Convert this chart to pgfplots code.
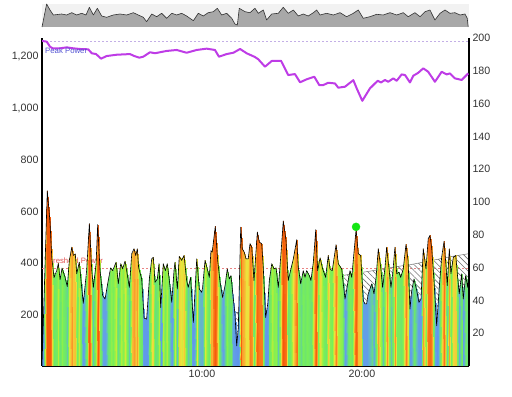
\documentclass[border=0pt]{standalone}
\usepackage{pgfplots}
\pgfplotsset{compat=1.18}
\usepackage{pgfplotstable}
\usetikzlibrary{patterns.meta}
\usepackage{fontspec}
\setmainfont{Liberation Sans}
\definecolor{peakc}{RGB}{190,60,230}
\definecolor{peaklab}{RGB}{80,80,210}
\definecolor{thrc}{RGB}{225,80,80}
\definecolor{ovfill}{RGB}{168,168,168}
\definecolor{dotc}{RGB}{20,230,20}
\pgfplotsset{colormap={pz}{rgb255(0cm)=(95,150,235); rgb255(12cm)=(100,160,230); rgb255(15cm)=(100,190,190); rgb255(17.5cm)=(105,225,120); rgb255(22cm)=(120,238,90); rgb255(24.5cm)=(170,240,60); rgb255(26.5cm)=(235,228,60); rgb255(29.5cm)=(250,175,50); rgb255(33cm)=(250,120,25); rgb255(40cm)=(245,90,10)}}

% power (W) against time (min)
\pgfplotstableread{
t p
0.00 0
0.33 680
0.50 559
0.61 422
0.75 343
0.92 370
1.02 398
1.13 335
1.25 380
1.44 344
1.58 308
1.71 410
1.86 461
1.96 429
2.08 435
2.17 358
2.33 403
2.42 344
2.58 243
2.79 370
2.96 553
3.11 370
3.21 305
3.38 397
3.48 549
3.63 370
3.79 273
3.94 260
4.14 332
4.29 381
4.42 370
4.63 403
4.77 319
4.92 397
5.04 377
5.19 407
5.29 370
5.46 305
5.61 436
5.75 455
5.86 429
5.96 455
6.04 381
6.23 338
6.38 186
6.54 182
6.71 338
6.86 416
6.96 422
7.06 325
7.21 338
7.31 397
7.42 227
7.58 397
7.71 370
7.83 397
7.96 332
8.11 247
8.25 370
8.31 403
8.46 299
8.58 425
8.73 410
8.88 429
9.04 332
9.14 305
9.29 344
9.46 169
9.67 416
9.83 299
9.98 286
10.04 305
10.19 410
10.33 377
10.46 344
10.56 448
10.64 442
10.83 542
10.98 410
11.13 325
11.29 266
11.44 312
11.58 377
11.71 338
11.81 351
11.96 260
12.06 202
12.17 78
12.27 149
12.42 539
12.52 455
12.64 442
12.75 416
12.89 416
13.00 475
13.11 461
13.25 332
13.46 520
13.58 481
13.73 475
13.83 383
13.98 188
14.11 241
14.21 332
14.36 397
14.50 377
14.63 381
14.77 305
14.92 422
15.08 563
15.25 488
15.39 332
15.56 377
15.71 416
15.92 490
16.02 383
16.17 319
16.33 370
16.44 344
16.54 370
16.71 351
16.81 332
16.96 403
17.11 529
17.23 370
17.38 420
17.54 377
17.73 344
17.89 429
18.00 377
18.14 370
18.38 471
18.52 397
18.73 377
18.94 260
19.14 332
19.25 370
19.36 344
19.63 530
19.77 436
19.92 429
20.08 254
20.19 241
20.29 241
20.39 280
20.61 319
20.75 280
20.88 344
21.02 455
21.17 383
21.29 305
21.44 383
21.54 461
21.69 377
21.81 305
21.92 358
22.06 461
22.17 358
22.31 364
22.42 344
22.58 377
22.75 472
22.88 410
23.00 221
23.11 293
23.25 338
23.42 293
23.56 247
23.69 260
23.83 455
24.00 377
24.14 494
24.25 507
24.36 455
24.50 332
24.67 156
24.83 305
24.98 422
25.13 484
25.25 390
25.33 312
25.46 455
25.56 358
25.71 422
25.86 429
25.96 358
26.08 280
26.23 358
26.33 260
26.48 351
26.61 305
26.69 370
}\pw
\pgfplotstablecreatecol[create col/copy=p]{c}\pw
\pgfplotstablegetrowsof{\pw}
\edef\nrows{\pgfplotsretval}
\pgfplotstablenew[
  create on use/t/.style={create col/copy column from table={\pw}{t}},
  create on use/p/.style={create col/set={0}},
  create on use/c/.style={create col/copy column from table={\pw}{c}},
  columns={t,p,c}]{\nrows}\pwmesh
\pgfplotstablevertcat{\pwmesh}{\pw}

% overview (smoothed power, panel units)
\pgfplotstableread{
t v
0 0
0.29 23
0.5 17
0.71 12
1.23 13
1.54 12
1.86 14.3
2.17 12
2.48 13.7
2.75 12
2.96 19.7
3.21 12
3.46 18.7
3.73 11
4.04 9.7
4.46 12
4.88 13
5.29 12
5.71 14.3
6.02 12
6.33 9.7
6.54 5.3
6.86 13
7.17 10.3
7.48 13.7
7.79 8.7
8.11 13.7
8.42 12
8.73 13.7
9.04 11
9.46 6.3
9.77 13.7
10.08 11
10.39 14.3
10.71 15.3
10.96 18.7
11.23 12
11.54 13.7
11.86 8.7
12.06 3
12.21 2
12.33 18.7
12.69 15.3
13.0 14.3
13.31 18.7
13.52 13.7
13.83 17
14.04 7
14.36 13
14.77 13.7
15.08 19.7
15.39 13.7
15.71 17
16.02 11
16.33 13
16.64 11
16.96 14.3
17.17 17
17.38 12
17.79 13.7
18.21 12
18.63 14.3
19.04 10.3
19.46 13.7
19.77 17
20.08 8.7
20.5 10.3
20.92 12.7
21.33 12
21.75 14.3
22.17 12
22.58 14.3
22.89 10.3
23.31 14.3
23.63 10.3
23.94 15.3
24.25 17
24.56 7
24.88 13.7
25.19 17
25.5 13.7
25.81 14.3
26.13 12
26.44 13
26.58 8.7
26.64 0
}\ov

\begin{document}
\begin{tikzpicture}
\useasboundingbox (0,0) rectangle (512bp,397bp);
% ---------- overview ----------
\begin{axis}[at={(42bp,370bp)}, anchor=south west, width=427bp, height=23bp,
  scale only axis, xmin=0, xmax=26.69, ymin=0, ymax=23,
  axis line style={draw=none}, ticks=none, clip=false,
  axis background/.style={fill=black!5}]
\addplot[fill=ovfill, draw=none] table[x=t, y=v] {\ov} \closedcycle;
\addplot[draw=black!80, line width=0.6bp, line join=round] table[x=t, y=v] {\ov};
\end{axis}
% ---------- main (power, left axis) ----------
\begin{axis}[at={(42bp,31bp)}, anchor=south west, width=427bp, height=328bp,
  scale only axis, xmin=0, xmax=26.69, ymin=0, ymax=1273,
  axis x line*=bottom, axis y line*=left,
  axis line style={line width=1.6bp, -},
  major tick length=0pt,
  xtick={10,20}, xticklabels={10:00,20:00},
  ytick={200,400,600,800,1000,1200},
  /pgf/number format/assume math mode=true,
  /pgf/number format/1000 sep={,},
  tick label style={font=\fontsize{10.7}{12}\selectfont, text=black!80},
  xticklabel style={yshift=-1bp},
  colormap name=pz, point meta min=150, point meta max=550]
% threshold power
\addplot[draw=thrc!70, line width=0.5bp, dash pattern=on 2bp off 2bp] coordinates {(0,380) (26.69,380)};
\addplot[draw=none] coordinates {(0.12,410)} node[anchor=west, inner sep=0pt, text=thrc, font=\fontsize{7.8}{9}\selectfont] {Threshold Power};
% hatched reference series
\addplot[draw=black!55, line width=0.5bp, pattern={Lines[angle=-45, distance=4.2bp, line width=0.6bp]}, pattern color=black!55] coordinates {(11.9,208) (12.35,208)} \closedcycle;
\addplot[draw=black!55, line width=0.5bp, pattern={Lines[angle=-45, distance=4.2bp, line width=0.6bp]}, pattern color=black!55] coordinates {(18.5,348) (19.25,356) (20.69,370) (22.19,386) (23.0,393) (24.25,408) (25.5,424) (26.69,436)} \closedcycle;
% coloured power area
\addplot[surf, shader=interp, mesh/rows=2, point meta=\thisrow{c}] table[x=t, y=p] {\pwmesh};
% power line
\addplot[black, line width=0.6bp, line join=round] table[x=t, y=p] {\pw};
% peak marker
\addplot[only marks, mark=*, mark size=4bp, color=dotc] coordinates {(19.63,540)};
\end{axis}
% ---------- peak power (right axis) ----------
\begin{axis}[at={(42bp,31bp)}, anchor=south west, width=427bp, height=328bp,
  scale only axis, xmin=0, xmax=26.69, ymin=0, ymax=200,
  axis x line=none, axis y line*=right,
  axis line style={line width=1.6bp, -},
  major tick length=0pt,
  ytick={20,40,60,80,100,120,140,160,180,200},
  /pgf/number format/assume math mode=true,
  tick label style={font=\fontsize{10.7}{12}\selectfont, text=black!80}]
\addplot[draw={rgb,255:red,195;green,175;blue,230}, line width=0.6bp, dash pattern=on 2bp off 2bp] coordinates {(0,198.2) (26.69,198.2)};
\addplot[peakc, line width=2bp, line join=round] coordinates {
(0,198.2) (0.29,197.8) (0.5,194.7) (0.67,193.7) (1.13,193.7) (1.54,194.3) (1.96,193.7) (2.38,193.3) (2.89,193.1) (3.11,190.7) (3.38,190.2) (3.69,187.4) (4.04,189) (4.67,189.8) (5.5,190.2) (5.77,189) (6.08,188) (6.33,188.6) (6.75,191.3) (7.06,190.7) (7.79,192.1) (8.42,192.7) (9.04,191) (9.67,192.7) (10.29,193.5) (10.81,192.7) (11.06,188.6) (11.54,190.2) (11.96,191) (12.38,193.3) (12.79,190.7) (13.31,188.4) (13.52,187) (13.94,182.5) (14.36,186) (14.94,186.1) (15.39,177.4) (15.81,178) (16.13,173) (16.54,174.8) (17.02,176.4) (17.33,171.3) (17.58,171.3) (17.89,172.7) (18.31,172.3) (18.52,169.7) (18.94,170.3) (19.46,174.3) (19.67,169.3) (20.02,161.7) (20.5,169.3) (20.98,173.9) (21.19,172.9) (21.44,174.4) (21.64,173.3) (21.96,175.4) (22.17,173.9) (22.48,177.8) (22.69,177.4) (23.0,172.9) (23.21,177) (23.52,178.8) (23.83,181.5) (24.14,179.4) (24.56,173.3) (24.98,179.4) (25.29,177.8) (25.5,178.4) (25.81,175.4) (26.23,174.4) (26.64,178.4)};
\addplot[draw=none] coordinates {(0.19,192.2)} node[anchor=west, inner sep=0pt, text=peaklab, font=\fontsize{7.8}{9}\selectfont] {Peak Power};
\end{axis}
\end{tikzpicture}
\end{document}
